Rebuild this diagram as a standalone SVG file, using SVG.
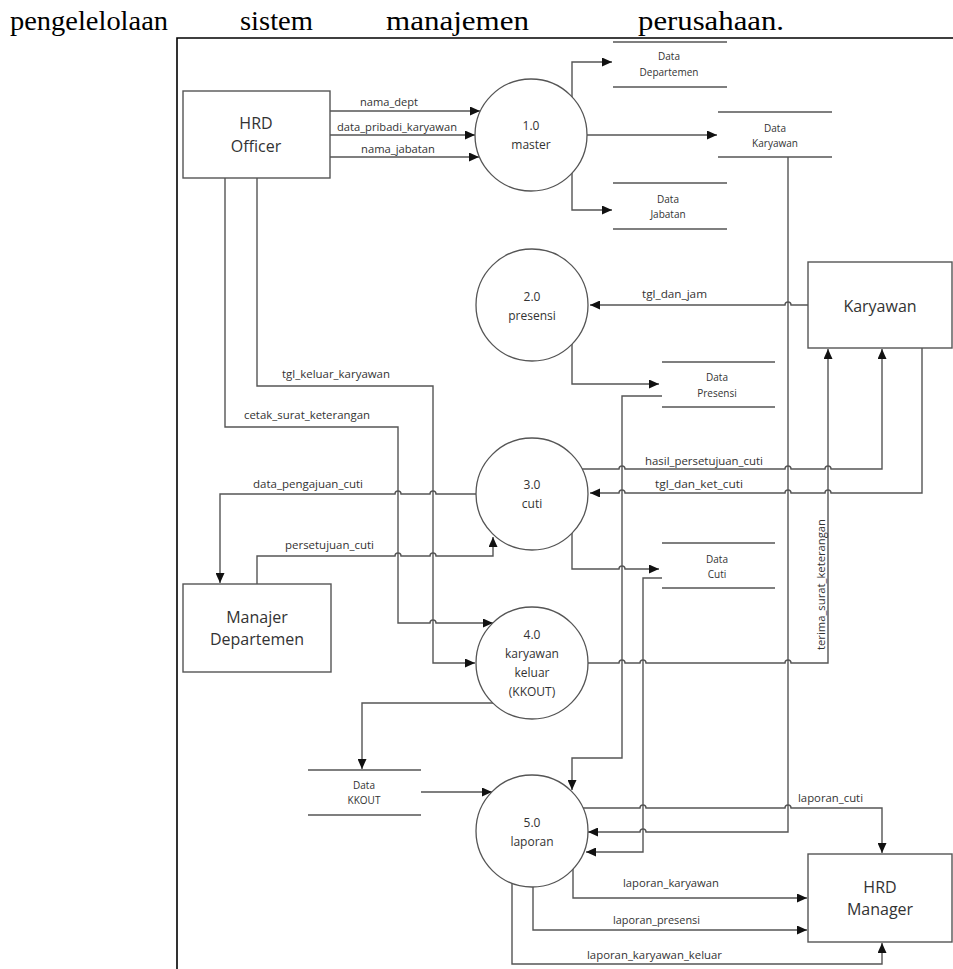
<svg xmlns="http://www.w3.org/2000/svg" width="953" height="969" viewBox="0 0 953 969">
<style>
.page{font-family:"Liberation Serif","Times New Roman",serif;font-size:28px;fill:#000}
.frame{stroke:#000;stroke-width:1.6;fill:none}
.ent{fill:#fff;stroke:#555;stroke-width:1.4}
.proc{fill:#fff;stroke:#555;stroke-width:1.3}
.store{stroke:#555;stroke-width:1.6}
.ln{fill:none;stroke:#555;stroke-width:1.4}
.arr{marker-end:url(#ah)}
.t16{font-family:"Open Sans","Noto Sans",sans-serif;font-size:16px;fill:#333;text-anchor:middle}
.t12{font-family:"Open Sans","Noto Sans",sans-serif;font-size:12px;fill:#333;text-anchor:middle}
.ts{font-family:"Open Sans","Noto Sans",sans-serif;font-size:10px;fill:#333;text-anchor:middle}
.lb{font-family:"Open Sans","Noto Sans",sans-serif;font-size:10px;fill:#333}
</style>
<defs>
<marker id="ah" markerUnits="userSpaceOnUse" markerWidth="11" markerHeight="9" refX="10" refY="4.5" orient="auto">
<path d="M0,0 L10,4.5 L0,9 z" fill="#111"/>
</marker>
</defs>
<rect x="0" y="0" width="953" height="969" fill="#fff"/>
<g id="page-text">
<text class="page" x="10" y="30" textLength="158" lengthAdjust="spacingAndGlyphs">pengelelolaan</text>
<text class="page" x="240" y="30" textLength="73" lengthAdjust="spacingAndGlyphs">sistem</text>
<text class="page" x="386" y="30" textLength="143" lengthAdjust="spacingAndGlyphs">manajemen</text>
<text class="page" x="638" y="30" textLength="146" lengthAdjust="spacingAndGlyphs">perusahaan.</text>
<path class="frame" d="M177,969 L177,38 L953,38"/>
</g>
<g id="connectors">
<path class="ln arr" d="M330,111 L480,111"/>
<path class="ln arr" d="M330,135 L475,135"/>
<path class="ln arr" d="M330,157 L479,157"/>
<path class="ln arr" d="M572,97 L572,62 L612,62"/>
<path class="ln arr" d="M587,135 L717,135"/>
<path class="ln arr" d="M572,173 L572,210 L612,210"/>
<path class="ln arr" d="M808,305 L791,305 A3,3 0 0 0 785,305 L590,305"/>
<path class="ln arr" d="M572,344 L572,384 L659,384"/>
<path class="ln arr" d="M582,469 L619,469 A3,3 0 0 1 625,469 L785,469 A3,3 0 0 1 791,469 L825,469 A3,3 0 0 1 831,469 L882,469 L882,349"/>
<path class="ln arr" d="M922,348 L922,493 L831,493 A3,3 0 0 0 825,493 L791,493 A3,3 0 0 0 785,493 L625,493 A3,3 0 0 0 619,493 L590,493"/>
<path class="ln arr" d="M476,494 L436,494 A3,3 0 0 0 430,494 L401,494 A3,3 0 0 0 395,494 L220,494 L220,583"/>
<path class="ln arr" d="M257,584 L257,556 L395,556 A3,3 0 0 1 401,556 L430,556 A3,3 0 0 1 436,556 L493,556 L493,537"/>
<path class="ln arr" d="M572,533 L572,569 L619,569 A3,3 0 0 1 625,569 L659,569"/>
<path class="ln arr" d="M588,663 L619,663 A3,3 0 0 1 625,663 L640,663 A3,3 0 0 1 646,663 L785,663 A3,3 0 0 1 791,663 L828,663 L828,349"/>
<path class="ln arr" d="M225,178 L225,427 L398,427 L398,623 L430,623 A3,3 0 0 1 436,623 L493,623"/>
<path class="ln arr" d="M257,178 L257,386 L433,386 L433,663 L475,663"/>
<path class="ln arr" d="M662,396 L622,396 L622,758 L572,758 L572,790"/>
<path class="ln arr" d="M662,578 L643,578 L643,852 L586,852"/>
<path class="ln arr" d="M788,157 L788,832 L646,832 A3,3 0 0 0 640,832 L588,832"/>
<path class="ln arr" d="M583,808 L640,808 A3,3 0 0 1 646,808 L785,808 A3,3 0 0 1 791,808 L882,808 L882,853"/>
<path class="ln arr" d="M573,869 L573,898 L807,898"/>
<path class="ln arr" d="M533,887 L533,930 L807,930"/>
<path class="ln arr" d="M512,883 L512,964 L882,964 L882,943"/>
<path class="ln arr" d="M421,792 L492,792"/>
<path class="ln arr" d="M493,703 L362,703 L362,769"/>
<text class="lb" x="360" y="106" textLength="58" lengthAdjust="spacingAndGlyphs">nama_dept</text>
<text class="lb" x="337" y="131" textLength="120" lengthAdjust="spacingAndGlyphs">data_pribadi_karyawan</text>
<text class="lb" x="361" y="153" textLength="74" lengthAdjust="spacingAndGlyphs">nama_jabatan</text>
<text class="lb" x="642" y="298" textLength="65" lengthAdjust="spacingAndGlyphs">tgl_dan_jam</text>
<text class="lb" x="282" y="378" textLength="108" lengthAdjust="spacingAndGlyphs">tgl_keluar_karyawan</text>
<text class="lb" x="244" y="419" textLength="126" lengthAdjust="spacingAndGlyphs">cetak_surat_keterangan</text>
<text class="lb" x="645" y="465" textLength="118" lengthAdjust="spacingAndGlyphs">hasil_persetujuan_cuti</text>
<text class="lb" x="655" y="488" textLength="88" lengthAdjust="spacingAndGlyphs">tgl_dan_ket_cuti</text>
<text class="lb" x="253" y="488" textLength="110" lengthAdjust="spacingAndGlyphs">data_pengajuan_cuti</text>
<text class="lb" x="285" y="549" textLength="89" lengthAdjust="spacingAndGlyphs">persetujuan_cuti</text>
<text class="lb" transform="translate(825,650) rotate(-90)" x="0" y="0" textLength="131" lengthAdjust="spacingAndGlyphs">terima_surat_keterangan</text>
<text class="lb" x="798" y="802" textLength="65" lengthAdjust="spacingAndGlyphs">laporan_cuti</text>
<text class="lb" x="623" y="887" textLength="96" lengthAdjust="spacingAndGlyphs">laporan_karyawan</text>
<text class="lb" x="613" y="924" textLength="87" lengthAdjust="spacingAndGlyphs">laporan_presensi</text>
<text class="lb" x="587" y="959" textLength="135" lengthAdjust="spacingAndGlyphs">laporan_karyawan_keluar</text>
</g>
<g id="hrd-officer">
<rect class="ent" x="183" y="91" width="147" height="87"/>
<text class="t16" x="256" y="129">HRD</text>
<text class="t16" x="256" y="152">Officer</text>
</g>
<g id="karyawan">
<rect class="ent" x="808" y="262" width="144" height="86"/>
<text class="t16" x="880" y="312">Karyawan</text>
</g>
<g id="manajer-departemen">
<rect class="ent" x="183" y="584" width="148" height="88"/>
<text class="t16" x="257" y="623">Manajer</text>
<text class="t16" x="257" y="645">Departemen</text>
</g>
<g id="hrd-manager">
<rect class="ent" x="808" y="854" width="144" height="88"/>
<text class="t16" x="880" y="893">HRD</text>
<text class="t16" x="880" y="915">Manager</text>
</g>
<g id="p1">
<circle class="proc" cx="531" cy="135" r="56"/>
<text class="t12" x="531" y="130">1.0</text>
<text class="t12" x="531" y="149">master</text>
</g>
<g id="p2">
<circle class="proc" cx="532" cy="305" r="56"/>
<text class="t12" x="532" y="301">2.0</text>
<text class="t12" x="532" y="320">presensi</text>
</g>
<g id="p3">
<circle class="proc" cx="532" cy="494" r="56"/>
<text class="t12" x="532" y="489">3.0</text>
<text class="t12" x="532" y="508">cuti</text>
</g>
<g id="p4">
<circle class="proc" cx="532" cy="663" r="56"/>
<text class="t12" x="532" y="639">4.0</text>
<text class="t12" x="532" y="658">karyawan</text>
<text class="t12" x="532" y="677">keluar</text>
<text class="t12" x="532" y="696">(KKOUT)</text>
</g>
<g id="p5">
<circle class="proc" cx="532" cy="831" r="56"/>
<text class="t12" x="532" y="827">5.0</text>
<text class="t12" x="532" y="846">laporan</text>
</g>
<g id="data-departemen">
<line class="store" x1="613" y1="42" x2="727" y2="42"/>
<line class="store" x1="613" y1="87" x2="727" y2="87"/>
<text class="ts" x="669" y="60">Data</text>
<text class="ts" x="669" y="76">Departemen</text>
</g>
<g id="data-karyawan">
<line class="store" x1="718" y1="112" x2="832" y2="112"/>
<line class="store" x1="718" y1="157" x2="832" y2="157"/>
<text class="ts" x="775" y="132">Data</text>
<text class="ts" x="775" y="147">Karyawan</text>
</g>
<g id="data-jabatan">
<line class="store" x1="613" y1="183" x2="727" y2="183"/>
<line class="store" x1="613" y1="229" x2="727" y2="229"/>
<text class="ts" x="668" y="203">Data</text>
<text class="ts" x="668" y="218">Jabatan</text>
</g>
<g id="data-presensi">
<line class="store" x1="662" y1="362" x2="775" y2="362"/>
<line class="store" x1="662" y1="407" x2="775" y2="407"/>
<text class="ts" x="717" y="381">Data</text>
<text class="ts" x="717" y="397">Presensi</text>
</g>
<g id="data-cuti">
<line class="store" x1="662" y1="543" x2="775" y2="543"/>
<line class="store" x1="662" y1="588" x2="775" y2="588"/>
<text class="ts" x="717" y="563">Data</text>
<text class="ts" x="717" y="578">Cuti</text>
</g>
<g id="data-kkout">
<line class="store" x1="308" y1="770" x2="421" y2="770"/>
<line class="store" x1="308" y1="815" x2="421" y2="815"/>
<text class="ts" x="364" y="789">Data</text>
<text class="ts" x="364" y="804">KKOUT</text>
</g>
</svg>
